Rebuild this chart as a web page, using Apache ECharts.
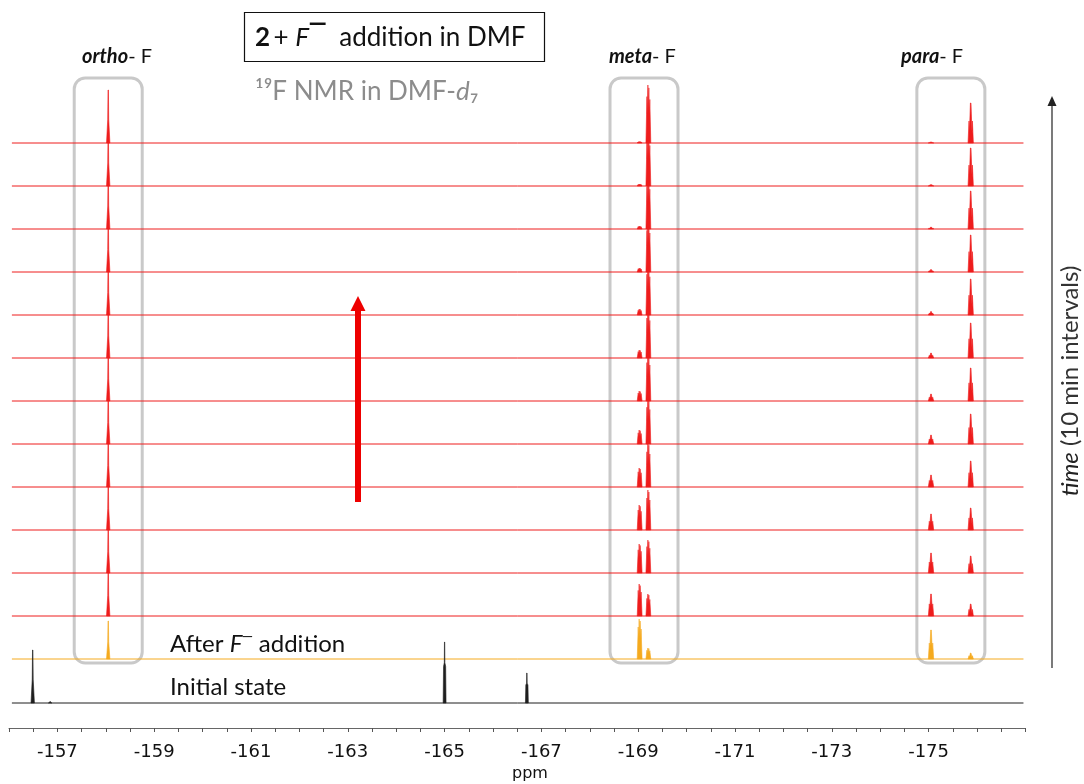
<!DOCTYPE html>
<html>
<head>
<meta charset="utf-8">
<script src="https://cdn.jsdelivr.net/npm/echarts@6/dist/echarts.min.js"></script>
<style>
  html, body { margin: 0; padding: 0; background: #fff; }
  #chart { width: 1084px; height: 784px; }
</style>
</head>
<body>
<div id="chart"></div>
<script>
// ---- spectral data (19F, ppm) ----
const ppmStart = -156.06;
const ppmEnd = -176.96;
const tickLabels = [-157, -159, -161, -163, -165, -167, -169, -171, -173, -175];

// initial state (before fluoride)
const initialPeakPPM = [-156.49, -156.85, -165.00, -166.70];
const initialPeakHeight = [53, 1.5, 61, 30];

// ortho, meta (a, b), para (a, b) signal positions after F- addition
const signalPPM = [-158.05, -169.03, -169.21, -175.05, -175.87];
// first spectrum right after F- addition: ortho, meta a, meta b, para a, para b
const afterAdditionHeights = [38, 40, 11, 29, 6];

// following spectra, 10 min apart (earliest first)
const orthoHeights = [46, 47, 47, 48, 48, 49, 49, 50, 50, 51, 51, 53];
const metaAHeights = [32, 29, 25, 19, 14, 10, 8, 6, 4, 3, 2, 1.5];
const metaBHeights = [22, 33, 40, 44, 46, 48, 50, 51, 52, 53, 54, 58];
const paraAHeights = [22, 20, 16, 12, 9, 7, 5, 3.5, 2.5, 2, 1.5, 1];
const paraBHeights = [12, 17, 22, 26, 30, 33, 35, 36, 37, 38, 38, 40];

// ---- line shapes (offset in ppm, relative intensity) ----
const SHAPES = [
  // 0: sharp singlet
  [[0.035, 0], [0.01, 0.45], [0.004, 1], [-0.004, 1], [-0.01, 0.45], [-0.035, 0]],
  // 1: singlet on a broader foot
  [[0.03, 0], [0.022, 0.6], [0.006, 0.66], [0.003, 1], [-0.003, 1], [-0.006, 0.66], [-0.022, 0.6], [-0.03, 0]],
  // 2: doublet
  [[0.05, 0], [0.03, 0.8], [0.02, 0.5], [0.01, 1], [0, 0.55], [-0.01, 0.95], [-0.02, 0.5], [-0.03, 0.75], [-0.05, 0]],
  // 3: triplet
  [[0.055, 0], [0.035, 0.55], [0.025, 0.3], [0.006, 1], [-0.006, 1], [-0.025, 0.3], [-0.035, 0.55], [-0.055, 0]]
];
const SIGNAL_SHAPES = [0, 2, 2, 3, 3];
const COLORS = ['#1e1e1e', '#f5aa1e', '#ee1c1c'];

const SPACING = 43;     // vertical stacking step
const BASE_INITIAL = 25;
const BASE_AFTER = 69;

// every trace: offset, colour, peak list [ppm, height, shape]
const traces = [];
traces.push({
  offset: BASE_INITIAL, color: 0,
  peaks: initialPeakPPM.map(function (v, i) { return [v, initialPeakHeight[i], i < 2 ? 0 : 1]; })
});
traces.push({
  offset: BASE_AFTER, color: 1,
  peaks: signalPPM.map(function (v, i) { return [v, afterAdditionHeights[i], SIGNAL_SHAPES[i]]; })
});
for (let k = 0; k < orthoHeights.length; k++) {
  const hs = [orthoHeights[k], metaAHeights[k], metaBHeights[k], paraAHeights[k], paraBHeights[k]];
  traces.push({
    offset: BASE_AFTER + SPACING * (k + 1), color: 2,
    peaks: signalPPM.map(function (v, i) { return [v, hs[i], SIGNAL_SHAPES[i]]; })
  });
}

const series = [];
const peakRows = [];
traces.forEach(function (tr) {
  // baseline of the spectrum
  series.push({
    type: 'line',
    data: [[ppmStart, tr.offset], [ppmEnd, tr.offset]],
    symbol: 'none',
    silent: true,
    animation: false,
    z: 3,
    lineStyle: { color: COLORS[tr.color], width: 1 }
  });
  tr.peaks.forEach(function (p) {
    peakRows.push([p[0], tr.offset, p[1], p[2], tr.color]);
  });
});

// every resonance drawn as a filled line shape on its baseline
series.push({
  type: 'custom',
  silent: true,
  animation: false,
  z: 4,
  encode: { x: 0, y: 1 },
  data: peakRows,
  renderItem: function (params, api) {
    const ppm = api.value(0), base = api.value(1), h = api.value(2);
    const shape = SHAPES[api.value(3)];
    const pts = shape.map(function (s) { return api.coord([ppm + s[0], base + h * s[1]]); });
    const c = COLORS[api.value(4)];
    return {
      type: 'polygon',
      shape: { points: pts },
      style: { fill: c, stroke: c, lineWidth: 0.6 }
    };
  }
});

const chart = echarts.init(document.getElementById('chart'), null, { renderer: 'canvas' });

const LABEL_FONT = 'Lato, "Open Sans", sans-serif';

chart.setOption({
  backgroundColor: '#ffffff',
  animation: false,
  grid: { left: 9, right: 58.6, top: 68, bottom: 56 },
  xAxis: {
    type: 'value',
    inverse: true,
    min: -177,
    max: -156,
    interval: 0.5,
    axisLine: { show: true, onZero: false, lineStyle: { color: '#666', width: 1 } },
    axisTick: { show: true, length: 4, lineStyle: { color: '#555' } },
    splitLine: { show: false },
    axisLabel: {
      margin: 15,
      fontFamily: '"DejaVu Sans", Verdana, sans-serif',
      fontSize: 18,
      color: '#111',
      formatter: function (v) { return tickLabels.indexOf(v) >= 0 ? String(v) : ''; }
    }
  },
  yAxis: { type: 'value', min: 0, max: 660, show: false },
  series: series
});

// rounded frames around the ortho / meta / para groups
const boxCentersPPM = [-158.05, -169.12, -175.46];
const boxes = boxCentersPPM.map(function (c) {
  const cx = chart.convertToPixel({ gridIndex: 0 }, [c, 0])[0];
  return {
    type: 'rect',
    shape: { x: cx - 34, y: 78, width: 68, height: 585, r: 11 },
    style: { fill: 'none', stroke: '#c9c9c9', lineWidth: 3 },
    z: 1
  };
});

const richBase = {
  b: { fontFamily: LABEL_FONT, fontWeight: 'bold', fontStyle: 'italic', fontSize: 20, fill: '#111' },
  n: { fontFamily: LABEL_FONT, fontSize: 20, fill: '#111' }
};

chart.setOption({
  graphic: boxes.concat([
    // title box
    {
      type: 'rect',
      shape: { x: 244.5, y: 12.5, width: 300, height: 49 },
      style: { fill: '#fff', stroke: '#111', lineWidth: 1.2 },
      z: 10
    },
    {
      type: 'text', x: 255, y: 38, z: 11,
      style: {
        text: '{b|2} {n|+ }{i|F}{s|‾ }{n| addition in DMF}',
        verticalAlign: 'middle',
        rich: {
          b: { fontFamily: LABEL_FONT, fontWeight: 'bold', fontSize: 26, fill: '#111' },
          n: { fontFamily: LABEL_FONT, fontSize: 26, fill: '#111' },
          i: { fontFamily: LABEL_FONT, fontStyle: 'italic', fontSize: 26, fill: '#111' },
          s: { fontFamily: LABEL_FONT, fontSize: 26, fontWeight: 'bold', fill: '#111' }
        }
      }
    },
    {
      type: 'text', x: 255, y: 92, z: 11,
      style: {
        text: '{n|¹⁹F NMR in DMF-}{i|d}{n|₇}',
        verticalAlign: 'middle',
        rich: {
          n: { fontFamily: LABEL_FONT, fontSize: 26, fill: '#8c8c8c' },
          i: { fontFamily: LABEL_FONT, fontStyle: 'italic', fontSize: 26, fill: '#8c8c8c' }
        }
      }
    },
    // group labels
    { type: 'text', x: 82, y: 57, z: 11, style: { text: '{b|ortho}{n|- F}', verticalAlign: 'middle', rich: richBase } },
    { type: 'text', x: 609, y: 57, z: 11, style: { text: '{b|meta}{n|- F}', verticalAlign: 'middle', rich: richBase } },
    { type: 'text', x: 901, y: 57, z: 11, style: { text: '{b|para}{n|- F}', verticalAlign: 'middle', rich: richBase } },
    // trace labels
    {
      type: 'text', x: 170, y: 644, z: 11,
      style: {
        text: '{n|After }{i|F}{s|‾}{n| addition}',
        verticalAlign: 'middle',
        rich: {
          n: { fontFamily: LABEL_FONT, fontSize: 24, fill: '#111' },
          i: { fontFamily: LABEL_FONT, fontStyle: 'italic', fontSize: 24, fill: '#111' },
          s: { fontFamily: LABEL_FONT, fontSize: 16, fill: '#111' }
        }
      }
    },
    {
      type: 'text', x: 170, y: 687, z: 11,
      style: { text: 'Initial state', verticalAlign: 'middle', fontFamily: LABEL_FONT, fontSize: 24, fill: '#111' }
    },
    // axis unit
    {
      type: 'text', x: 530, y: 774, z: 11,
      style: { text: 'ppm', align: 'center', verticalAlign: 'middle', fontFamily: '"DejaVu Sans", sans-serif', fontSize: 16, fill: '#111' }
    },
    // red arrow (reaction progress)
    {
      type: 'polygon', z: 12,
      shape: { points: [[355, 502], [361, 502], [361, 311], [365.5, 311], [358, 296], [350.5, 311], [355, 311]] },
      style: { fill: '#ee0000' }
    },
    // time axis arrow
    {
      type: 'line', z: 12,
      shape: { x1: 1052, y1: 668, x2: 1052, y2: 104 },
      style: { stroke: '#222', lineWidth: 1.2 }
    },
    {
      type: 'polygon', z: 12,
      shape: { points: [[1052, 96], [1047.5, 106], [1056.5, 106]] },
      style: { fill: '#222' }
    },
    {
      type: 'text', x: 1070, y: 381, rotation: Math.PI / 2, z: 12,
      style: {
        text: '{i|time}{n| (10 min intervals)}',
        align: 'center', verticalAlign: 'middle',
        rich: {
          i: { fontFamily: LABEL_FONT, fontStyle: 'italic', fontSize: 24, fill: '#222' },
          n: { fontFamily: LABEL_FONT, fontSize: 24, fill: '#333' }
        }
      }
    }
  ])
});
</script>
</body>
</html>
